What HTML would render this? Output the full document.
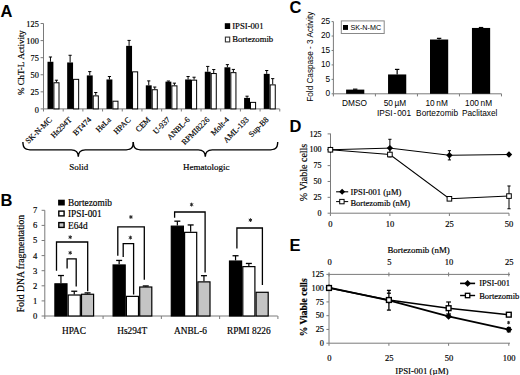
<!DOCTYPE html>
<html><head><meta charset="utf-8"><style>
html,body{margin:0;padding:0;background:#fff;}
body{width:520px;height:375px;overflow:hidden;}
svg{display:block;}
text[font-family*="Serif"]{stroke:#000;stroke-width:0.18px;}
</style></head><body>
<svg width="520" height="375" viewBox="0 0 520 375">
<rect width="520" height="375" fill="#fff"/>
<text x="0.5" y="16.8" font-family='"Liberation Sans", sans-serif' font-size="16.5" text-anchor="start" font-weight="bold" fill="#000" >A</text>
<text x="0.5" y="206.3" font-family='"Liberation Sans", sans-serif' font-size="16.5" text-anchor="start" font-weight="bold" fill="#000" >B</text>
<text x="289.5" y="12.6" font-family='"Liberation Sans", sans-serif' font-size="16.5" text-anchor="start" font-weight="bold" fill="#000" >C</text>
<text x="289.5" y="131.9" font-family='"Liberation Sans", sans-serif' font-size="16.5" text-anchor="start" font-weight="bold" fill="#000" >D</text>
<text x="289.5" y="251.4" font-family='"Liberation Sans", sans-serif' font-size="16.5" text-anchor="start" font-weight="bold" fill="#000" >E</text>
<line x1="43.5" y1="23.5" x2="43.5" y2="108.9" stroke="#7a7a7a" stroke-width="1"/>
<line x1="43.5" y1="108.9" x2="279.6" y2="108.9" stroke="#7a7a7a" stroke-width="1"/>
<line x1="40.6" y1="108.9" x2="43.5" y2="108.9" stroke="#7a7a7a" stroke-width="1"/>
<text x="38.8" y="112.5" font-family='"Liberation Serif", serif' font-size="8.3" text-anchor="end" font-weight="normal" fill="#000" >0</text>
<line x1="40.6" y1="91.83" x2="43.5" y2="91.83" stroke="#7a7a7a" stroke-width="1"/>
<text x="38.8" y="95.42" font-family='"Liberation Serif", serif' font-size="8.3" text-anchor="end" font-weight="normal" fill="#000" >25</text>
<line x1="40.6" y1="74.75" x2="43.5" y2="74.75" stroke="#7a7a7a" stroke-width="1"/>
<text x="38.8" y="78.35" font-family='"Liberation Serif", serif' font-size="8.3" text-anchor="end" font-weight="normal" fill="#000" >50</text>
<line x1="40.6" y1="57.68" x2="43.5" y2="57.68" stroke="#7a7a7a" stroke-width="1"/>
<text x="38.8" y="61.28" font-family='"Liberation Serif", serif' font-size="8.3" text-anchor="end" font-weight="normal" fill="#000" >75</text>
<line x1="40.6" y1="40.6" x2="43.5" y2="40.6" stroke="#7a7a7a" stroke-width="1"/>
<text x="38.8" y="44.2" font-family='"Liberation Serif", serif' font-size="8.3" text-anchor="end" font-weight="normal" fill="#000" >100</text>
<line x1="40.6" y1="23.53" x2="43.5" y2="23.53" stroke="#7a7a7a" stroke-width="1"/>
<text x="38.8" y="27.13" font-family='"Liberation Serif", serif' font-size="8.3" text-anchor="end" font-weight="normal" fill="#000" >125</text>
<line x1="43.5" y1="108.9" x2="43.5" y2="111.5" stroke="#7a7a7a" stroke-width="1"/>
<line x1="63.19" y1="108.9" x2="63.19" y2="111.5" stroke="#7a7a7a" stroke-width="1"/>
<line x1="82.88" y1="108.9" x2="82.88" y2="111.5" stroke="#7a7a7a" stroke-width="1"/>
<line x1="102.57" y1="108.9" x2="102.57" y2="111.5" stroke="#7a7a7a" stroke-width="1"/>
<line x1="122.26" y1="108.9" x2="122.26" y2="111.5" stroke="#7a7a7a" stroke-width="1"/>
<line x1="141.95" y1="108.9" x2="141.95" y2="111.5" stroke="#7a7a7a" stroke-width="1"/>
<line x1="161.64" y1="108.9" x2="161.64" y2="111.5" stroke="#7a7a7a" stroke-width="1"/>
<line x1="181.33" y1="108.9" x2="181.33" y2="111.5" stroke="#7a7a7a" stroke-width="1"/>
<line x1="201.02" y1="108.9" x2="201.02" y2="111.5" stroke="#7a7a7a" stroke-width="1"/>
<line x1="220.71" y1="108.9" x2="220.71" y2="111.5" stroke="#7a7a7a" stroke-width="1"/>
<line x1="240.4" y1="108.9" x2="240.4" y2="111.5" stroke="#7a7a7a" stroke-width="1"/>
<line x1="260.09" y1="108.9" x2="260.09" y2="111.5" stroke="#7a7a7a" stroke-width="1"/>
<line x1="279.78" y1="108.9" x2="279.78" y2="111.5" stroke="#7a7a7a" stroke-width="1"/>
<line x1="50.45" y1="56.99" x2="50.45" y2="61.77" stroke="#000" stroke-width="1"/>
<line x1="48.85" y1="56.99" x2="52.05" y2="56.99" stroke="#000" stroke-width="1"/>
<rect x="47.5" y="61.77" width="5.9" height="47.13" fill="#000"/>
<line x1="56.45" y1="80.21" x2="56.45" y2="82.26" stroke="#000" stroke-width="1"/>
<line x1="54.85" y1="80.21" x2="58.05" y2="80.21" stroke="#000" stroke-width="1"/>
<rect x="53.9" y="82.76" width="5.1" height="26.14" fill="#fff" stroke="#000" stroke-width="1"/>
<line x1="70.11" y1="55.28" x2="70.11" y2="62.46" stroke="#000" stroke-width="1"/>
<line x1="68.51" y1="55.28" x2="71.71" y2="55.28" stroke="#000" stroke-width="1"/>
<rect x="67.16" y="62.46" width="5.9" height="46.44" fill="#000"/>
<rect x="73.56" y="79.35" width="5.1" height="29.55" fill="#fff" stroke="#000" stroke-width="1"/>
<line x1="89.77" y1="71.61" x2="89.77" y2="75.43" stroke="#000" stroke-width="1"/>
<line x1="88.17" y1="71.61" x2="91.37" y2="71.61" stroke="#000" stroke-width="1"/>
<rect x="86.82" y="75.43" width="5.9" height="33.47" fill="#000"/>
<line x1="95.77" y1="92.51" x2="95.77" y2="95.38" stroke="#000" stroke-width="1"/>
<line x1="94.17" y1="92.51" x2="97.37" y2="92.51" stroke="#000" stroke-width="1"/>
<rect x="93.22" y="95.88" width="5.1" height="13.02" fill="#fff" stroke="#000" stroke-width="1"/>
<line x1="109.43" y1="76.53" x2="109.43" y2="79.46" stroke="#000" stroke-width="1"/>
<line x1="107.83" y1="76.53" x2="111.03" y2="76.53" stroke="#000" stroke-width="1"/>
<rect x="106.48" y="79.46" width="5.9" height="29.44" fill="#000"/>
<rect x="112.88" y="101.2" width="5.1" height="7.7" fill="#fff" stroke="#000" stroke-width="1"/>
<line x1="129.09" y1="40.4" x2="129.09" y2="45.86" stroke="#000" stroke-width="1"/>
<line x1="127.49" y1="40.4" x2="130.69" y2="40.4" stroke="#000" stroke-width="1"/>
<rect x="126.14" y="45.86" width="5.9" height="63.04" fill="#000"/>
<rect x="132.54" y="71.84" width="5.1" height="37.06" fill="#fff" stroke="#000" stroke-width="1"/>
<line x1="148.75" y1="80.9" x2="148.75" y2="85.34" stroke="#000" stroke-width="1"/>
<line x1="147.15" y1="80.9" x2="150.35" y2="80.9" stroke="#000" stroke-width="1"/>
<rect x="145.8" y="85.34" width="5.9" height="23.56" fill="#000"/>
<line x1="154.75" y1="87.04" x2="154.75" y2="89.23" stroke="#000" stroke-width="1"/>
<line x1="153.15" y1="87.04" x2="156.35" y2="87.04" stroke="#000" stroke-width="1"/>
<rect x="152.2" y="89.73" width="5.1" height="19.17" fill="#fff" stroke="#000" stroke-width="1"/>
<line x1="168.41" y1="81.03" x2="168.41" y2="81.65" stroke="#000" stroke-width="1"/>
<line x1="166.81" y1="81.03" x2="170.01" y2="81.03" stroke="#000" stroke-width="1"/>
<rect x="165.46" y="81.65" width="5.9" height="27.25" fill="#000"/>
<line x1="174.41" y1="83.15" x2="174.41" y2="85.34" stroke="#000" stroke-width="1"/>
<line x1="172.81" y1="83.15" x2="176.01" y2="83.15" stroke="#000" stroke-width="1"/>
<rect x="171.86" y="85.84" width="5.1" height="23.06" fill="#fff" stroke="#000" stroke-width="1"/>
<line x1="188.07" y1="76.53" x2="188.07" y2="79.46" stroke="#000" stroke-width="1"/>
<line x1="186.47" y1="76.53" x2="189.67" y2="76.53" stroke="#000" stroke-width="1"/>
<rect x="185.12" y="79.46" width="5.9" height="29.44" fill="#000"/>
<line x1="194.07" y1="77.21" x2="194.07" y2="79.67" stroke="#000" stroke-width="1"/>
<line x1="192.47" y1="77.21" x2="195.67" y2="77.21" stroke="#000" stroke-width="1"/>
<rect x="191.52" y="80.17" width="5.1" height="28.73" fill="#fff" stroke="#000" stroke-width="1"/>
<line x1="207.73" y1="66.42" x2="207.73" y2="71.74" stroke="#000" stroke-width="1"/>
<line x1="206.13" y1="66.42" x2="209.33" y2="66.42" stroke="#000" stroke-width="1"/>
<rect x="204.78" y="71.74" width="5.9" height="37.16" fill="#000"/>
<line x1="213.73" y1="69.56" x2="213.73" y2="73.04" stroke="#000" stroke-width="1"/>
<line x1="212.13" y1="69.56" x2="215.33" y2="69.56" stroke="#000" stroke-width="1"/>
<rect x="211.18" y="73.54" width="5.1" height="35.36" fill="#fff" stroke="#000" stroke-width="1"/>
<line x1="227.39" y1="64.64" x2="227.39" y2="67.31" stroke="#000" stroke-width="1"/>
<line x1="225.79" y1="64.64" x2="228.99" y2="64.64" stroke="#000" stroke-width="1"/>
<rect x="224.44" y="67.31" width="5.9" height="41.59" fill="#000"/>
<line x1="233.39" y1="69.42" x2="233.39" y2="72.15" stroke="#000" stroke-width="1"/>
<line x1="231.79" y1="69.42" x2="234.99" y2="69.42" stroke="#000" stroke-width="1"/>
<rect x="230.84" y="72.65" width="5.1" height="36.25" fill="#fff" stroke="#000" stroke-width="1"/>
<line x1="247.05" y1="96.2" x2="247.05" y2="97.9" stroke="#000" stroke-width="1"/>
<line x1="245.45" y1="96.2" x2="248.65" y2="96.2" stroke="#000" stroke-width="1"/>
<rect x="244.1" y="97.9" width="5.9" height="11" fill="#000"/>
<rect x="250.5" y="102.37" width="5.1" height="6.53" fill="#fff" stroke="#000" stroke-width="1"/>
<line x1="266.71" y1="70.52" x2="266.71" y2="73.86" stroke="#000" stroke-width="1"/>
<line x1="265.11" y1="70.52" x2="268.31" y2="70.52" stroke="#000" stroke-width="1"/>
<rect x="263.76" y="73.86" width="5.9" height="35.04" fill="#000"/>
<line x1="272.71" y1="78.64" x2="272.71" y2="84.38" stroke="#000" stroke-width="1"/>
<line x1="271.11" y1="78.64" x2="274.31" y2="78.64" stroke="#000" stroke-width="1"/>
<rect x="270.16" y="84.88" width="5.1" height="24.02" fill="#fff" stroke="#000" stroke-width="1"/>
<rect x="224.8" y="23.2" width="5.4" height="5.8" fill="#000"/>
<text x="232.2" y="29.4" font-family='"Liberation Serif", serif' font-size="8.7" text-anchor="start" font-weight="normal" fill="#000" >IPSI-001</text>
<rect x="225.4" y="37.1" width="4.3" height="4.8" fill="#fff" stroke="#333" stroke-width="1.1"/>
<text x="232.2" y="42.3" font-family='"Liberation Serif", serif' font-size="8.7" text-anchor="start" font-weight="normal" fill="#000" >Bortezomib</text>
<text transform="translate(52.45,120.2) rotate(-45)" font-family='"Liberation Serif", serif' font-size="8.0" text-anchor="end">SK-N-MC</text>
<text transform="translate(72.14,120.2) rotate(-45)" font-family='"Liberation Serif", serif' font-size="8.0" text-anchor="end">Hs294T</text>
<text transform="translate(91.83,120.2) rotate(-45)" font-family='"Liberation Serif", serif' font-size="8.0" text-anchor="end">BT474</text>
<text transform="translate(111.52,120.2) rotate(-45)" font-family='"Liberation Serif", serif' font-size="8.0" text-anchor="end">HeLa</text>
<text transform="translate(131.21,120.2) rotate(-45)" font-family='"Liberation Serif", serif' font-size="8.0" text-anchor="end">HPAC</text>
<text transform="translate(150.9,120.2) rotate(-45)" font-family='"Liberation Serif", serif' font-size="8.0" text-anchor="end">CEM</text>
<text transform="translate(170.59,120.2) rotate(-45)" font-family='"Liberation Serif", serif' font-size="8.0" text-anchor="end">U-937</text>
<text transform="translate(190.28,120.2) rotate(-45)" font-family='"Liberation Serif", serif' font-size="8.0" text-anchor="end">ANBL-6</text>
<text transform="translate(209.97,120.2) rotate(-45)" font-family='"Liberation Serif", serif' font-size="8.0" text-anchor="end">RPMI8226</text>
<text transform="translate(229.66,120.2) rotate(-45)" font-family='"Liberation Serif", serif' font-size="8.0" text-anchor="end">Molt-4</text>
<text transform="translate(249.35,120.2) rotate(-45)" font-family='"Liberation Serif", serif' font-size="8.0" text-anchor="end">AML-193</text>
<text transform="translate(269.04,120.2) rotate(-45)" font-family='"Liberation Serif", serif' font-size="8.0" text-anchor="end">Sup-B8</text>
<text transform="translate(24,62.6) rotate(-90)" font-family='"Liberation Serif", serif' font-size="8.95" font-weight="normal" text-anchor="middle">% ChT-L<tspan dx="2.4">Activity</tspan></text>
<path d="M22.9,142 C22.9,148.9 25.9,149.9 32.4,149.9 L71.3,149.9 C75.3,149.9 78.3,151.9 78.3,156.8 C78.3,151.9 81.3,149.9 85.3,149.9 L123.8,149.9 C130.3,149.9 133.3,148.9 133.3,142" stroke="#000" stroke-width="1.4" fill="none"/>
<path d="M133.3,142 C133.3,148.9 136.3,149.9 142.8,149.9 L198.3,149.9 C202.3,149.9 205.3,151.9 205.3,156.8 C205.3,151.9 208.3,149.9 212.3,149.9 L268.2,149.9 C274.7,149.9 277.7,148.9 277.7,142" stroke="#000" stroke-width="1.4" fill="none"/>
<text x="78.8" y="169.6" font-family='"Liberation Serif", serif' font-size="9" text-anchor="middle" font-weight="normal" fill="#000" >Solid</text>
<text x="206.2" y="169.8" font-family='"Liberation Serif", serif' font-size="9" text-anchor="middle" font-weight="normal" fill="#000" >Hematologic</text>
<line x1="44.8" y1="210.3" x2="44.8" y2="316" stroke="#7a7a7a" stroke-width="1"/>
<line x1="44.8" y1="316" x2="277.7" y2="316" stroke="#7a7a7a" stroke-width="1"/>
<line x1="41.6" y1="316" x2="44.8" y2="316" stroke="#7a7a7a" stroke-width="1"/>
<text x="37.4" y="318.9" font-family='"Liberation Serif", serif' font-size="8.6" text-anchor="end" font-weight="normal" fill="#000" >0</text>
<line x1="41.6" y1="300.9" x2="44.8" y2="300.9" stroke="#7a7a7a" stroke-width="1"/>
<text x="37.4" y="303.8" font-family='"Liberation Serif", serif' font-size="8.6" text-anchor="end" font-weight="normal" fill="#000" >1</text>
<line x1="41.6" y1="285.8" x2="44.8" y2="285.8" stroke="#7a7a7a" stroke-width="1"/>
<text x="37.4" y="288.7" font-family='"Liberation Serif", serif' font-size="8.6" text-anchor="end" font-weight="normal" fill="#000" >2</text>
<line x1="41.6" y1="270.7" x2="44.8" y2="270.7" stroke="#7a7a7a" stroke-width="1"/>
<text x="37.4" y="273.6" font-family='"Liberation Serif", serif' font-size="8.6" text-anchor="end" font-weight="normal" fill="#000" >3</text>
<line x1="41.6" y1="255.6" x2="44.8" y2="255.6" stroke="#7a7a7a" stroke-width="1"/>
<text x="37.4" y="258.5" font-family='"Liberation Serif", serif' font-size="8.6" text-anchor="end" font-weight="normal" fill="#000" >4</text>
<line x1="41.6" y1="240.5" x2="44.8" y2="240.5" stroke="#7a7a7a" stroke-width="1"/>
<text x="37.4" y="243.4" font-family='"Liberation Serif", serif' font-size="8.6" text-anchor="end" font-weight="normal" fill="#000" >5</text>
<line x1="41.6" y1="225.4" x2="44.8" y2="225.4" stroke="#7a7a7a" stroke-width="1"/>
<text x="37.4" y="228.3" font-family='"Liberation Serif", serif' font-size="8.6" text-anchor="end" font-weight="normal" fill="#000" >6</text>
<line x1="41.6" y1="210.3" x2="44.8" y2="210.3" stroke="#7a7a7a" stroke-width="1"/>
<text x="37.4" y="213.2" font-family='"Liberation Serif", serif' font-size="8.6" text-anchor="end" font-weight="normal" fill="#000" >7</text>
<line x1="44.8" y1="316" x2="44.8" y2="319" stroke="#7a7a7a" stroke-width="1"/>
<line x1="103.08" y1="316" x2="103.08" y2="319" stroke="#7a7a7a" stroke-width="1"/>
<line x1="161.36" y1="316" x2="161.36" y2="319" stroke="#7a7a7a" stroke-width="1"/>
<line x1="219.64" y1="316" x2="219.64" y2="319" stroke="#7a7a7a" stroke-width="1"/>
<line x1="277.92" y1="316" x2="277.92" y2="319" stroke="#7a7a7a" stroke-width="1"/>
<line x1="60.95" y1="275.53" x2="60.95" y2="283.23" stroke="#000" stroke-width="1.2"/>
<line x1="57.95" y1="275.53" x2="63.95" y2="275.53" stroke="#000" stroke-width="1.3"/>
<rect x="54.9" y="283.83" width="12.1" height="32.17" fill="#000" stroke="#000" stroke-width="1.2"/>
<line x1="74.25" y1="291.24" x2="74.25" y2="294.41" stroke="#000" stroke-width="1.2"/>
<line x1="71.25" y1="291.24" x2="77.25" y2="291.24" stroke="#000" stroke-width="1.3"/>
<rect x="68.2" y="295.01" width="12.1" height="20.99" fill="#fff" stroke="#000" stroke-width="1.2"/>
<line x1="87.55" y1="292.9" x2="87.55" y2="293.65" stroke="#000" stroke-width="1.2"/>
<line x1="84.55" y1="292.9" x2="90.55" y2="292.9" stroke="#000" stroke-width="1.3"/>
<rect x="81.5" y="294.25" width="12.1" height="21.75" fill="#c4c4c4" stroke="#000" stroke-width="1.2"/>
<line x1="119.15" y1="260.43" x2="119.15" y2="264.36" stroke="#000" stroke-width="1.2"/>
<line x1="116.15" y1="260.43" x2="122.15" y2="260.43" stroke="#000" stroke-width="1.3"/>
<rect x="113.1" y="264.96" width="12.1" height="51.04" fill="#000" stroke="#000" stroke-width="1.2"/>
<rect x="126.4" y="296.37" width="12.1" height="19.63" fill="#fff" stroke="#000" stroke-width="1.2"/>
<line x1="145.75" y1="285.95" x2="145.75" y2="286.4" stroke="#000" stroke-width="1.2"/>
<line x1="142.75" y1="285.95" x2="148.75" y2="285.95" stroke="#000" stroke-width="1.3"/>
<rect x="139.7" y="287" width="12.1" height="29" fill="#c4c4c4" stroke="#000" stroke-width="1.2"/>
<line x1="177.35" y1="221.17" x2="177.35" y2="225.55" stroke="#000" stroke-width="1.2"/>
<line x1="174.35" y1="221.17" x2="180.35" y2="221.17" stroke="#000" stroke-width="1.3"/>
<rect x="171.3" y="226.15" width="12.1" height="89.85" fill="#000" stroke="#000" stroke-width="1.2"/>
<line x1="190.65" y1="224.95" x2="190.65" y2="231.74" stroke="#000" stroke-width="1.2"/>
<line x1="187.65" y1="224.95" x2="193.65" y2="224.95" stroke="#000" stroke-width="1.3"/>
<rect x="184.6" y="232.34" width="12.1" height="83.66" fill="#fff" stroke="#000" stroke-width="1.2"/>
<line x1="203.95" y1="275.68" x2="203.95" y2="281.27" stroke="#000" stroke-width="1.2"/>
<line x1="200.95" y1="275.68" x2="206.95" y2="275.68" stroke="#000" stroke-width="1.3"/>
<rect x="197.9" y="281.87" width="12.1" height="34.13" fill="#c4c4c4" stroke="#000" stroke-width="1.2"/>
<line x1="235.55" y1="255.75" x2="235.55" y2="260.43" stroke="#000" stroke-width="1.2"/>
<line x1="232.55" y1="255.75" x2="238.55" y2="255.75" stroke="#000" stroke-width="1.3"/>
<rect x="229.5" y="261.03" width="12.1" height="54.97" fill="#000" stroke="#000" stroke-width="1.2"/>
<line x1="248.85" y1="263.45" x2="248.85" y2="266.02" stroke="#000" stroke-width="1.2"/>
<line x1="245.85" y1="263.45" x2="251.85" y2="263.45" stroke="#000" stroke-width="1.3"/>
<rect x="242.8" y="266.62" width="12.1" height="49.38" fill="#fff" stroke="#000" stroke-width="1.2"/>
<rect x="256.1" y="292.29" width="12.1" height="23.71" fill="#c4c4c4" stroke="#000" stroke-width="1.2"/>
<path d="M56.5,270.8 L56.5,242 L87.7,242 L87.7,291.2" stroke="#000" stroke-width="1.3" fill="none"/>
<path d="M70.2,235.3 L70.2,239.1 M68.55,236.25 L71.85,238.15 M71.85,236.25 L68.55,238.15 " stroke="#222" stroke-width="1.0" fill="none"/>
<path d="M67.1,268.4 L67.1,258.8 L76.2,258.8 L76.2,286.4" stroke="#000" stroke-width="1.3" fill="none"/>
<path d="M70.2,250.9 L70.2,254.7 M68.55,251.85 L71.85,253.75 M71.85,251.85 L68.55,253.75 " stroke="#222" stroke-width="1.0" fill="none"/>
<path d="M117.8,255.7 L117.8,226.9 L144.3,226.9 L144.3,279.8" stroke="#000" stroke-width="1.3" fill="none"/>
<path d="M130.9,215.1 L130.9,218.9 M129.25,216.05 L132.55,217.95 M132.55,216.05 L129.25,217.95 " stroke="#222" stroke-width="1.0" fill="none"/>
<path d="M123.2,257 L123.2,243.7 L133.6,243.7 L133.6,294.5" stroke="#000" stroke-width="1.3" fill="none"/>
<path d="M130.4,235.7 L130.4,239.5 M128.75,236.65 L132.05,238.55 M132.05,236.65 L128.75,238.55 " stroke="#222" stroke-width="1.0" fill="none"/>
<path d="M174.6,217.8 L174.6,212 L205.1,212 L205.1,272.4" stroke="#000" stroke-width="1.3" fill="none"/>
<path d="M191.6,202.7 L191.6,206.5 M189.95,203.65 L193.25,205.55 M193.25,203.65 L189.95,205.55 " stroke="#222" stroke-width="1.0" fill="none"/>
<path d="M236.9,248.5 L236.9,228 L262.4,228 L262.4,285" stroke="#000" stroke-width="1.3" fill="none"/>
<path d="M250.4,218.2 L250.4,222 M248.75,219.15 L252.05,221.05 M252.05,219.15 L248.75,221.05 " stroke="#222" stroke-width="1.0" fill="none"/>
<rect x="58.1" y="199.7" width="6.7" height="5.8" fill="#000"/>
<text x="68" y="205.5" font-family='"Liberation Serif", serif' font-size="9.3" text-anchor="start" font-weight="normal" fill="#000" >Bortezomib</text>
<rect x="58.8" y="211.1" width="5.3" height="4.8" fill="#fff" stroke="#000" stroke-width="1.4"/>
<text x="68" y="217.2" font-family='"Liberation Serif", serif' font-size="9.3" text-anchor="start" font-weight="normal" fill="#000" >IPSI-001</text>
<rect x="58.8" y="222.6" width="5.3" height="4.8" fill="#c4c4c4" stroke="#000" stroke-width="1.4"/>
<text x="68" y="228.6" font-family='"Liberation Serif", serif' font-size="9.3" text-anchor="start" font-weight="normal" fill="#000" >E64d</text>
<text x="73.94" y="333.8" font-family='"Liberation Serif", serif' font-size="9.3" text-anchor="middle" font-weight="normal" fill="#000" >HPAC</text>
<text x="132.22" y="333.8" font-family='"Liberation Serif", serif' font-size="9.3" text-anchor="middle" font-weight="normal" fill="#000" >Hs294T</text>
<text x="190.5" y="333.8" font-family='"Liberation Serif", serif' font-size="9.3" text-anchor="middle" font-weight="normal" fill="#000" >ANBL-6</text>
<text x="248.78" y="333.8" font-family='"Liberation Serif", serif' font-size="9.3" text-anchor="middle" font-weight="normal" fill="#000" >RPMI 8226</text>
<text transform="translate(23.6,263.5) rotate(-90)" font-family='"Liberation Serif", serif' font-size="9.7" font-weight="normal" text-anchor="middle">Fold DNA fragmentation</text>
<line x1="333.4" y1="21.6" x2="333.4" y2="93.8" stroke="#7a7a7a" stroke-width="1"/>
<line x1="333.4" y1="93.8" x2="501.5" y2="93.8" stroke="#7a7a7a" stroke-width="1"/>
<line x1="331.6" y1="93.8" x2="333.4" y2="93.8" stroke="#7a7a7a" stroke-width="1"/>
<text x="330.2" y="96.1" font-family='"Liberation Sans", sans-serif' font-size="8.3" text-anchor="end" font-weight="normal" fill="#000" >0</text>
<line x1="331.6" y1="79.36" x2="333.4" y2="79.36" stroke="#7a7a7a" stroke-width="1"/>
<text x="330.2" y="81.66" font-family='"Liberation Sans", sans-serif' font-size="8.3" text-anchor="end" font-weight="normal" fill="#000" >5</text>
<line x1="331.6" y1="64.92" x2="333.4" y2="64.92" stroke="#7a7a7a" stroke-width="1"/>
<text x="330.2" y="67.22" font-family='"Liberation Sans", sans-serif' font-size="8.3" text-anchor="end" font-weight="normal" fill="#000" >10</text>
<line x1="331.6" y1="50.48" x2="333.4" y2="50.48" stroke="#7a7a7a" stroke-width="1"/>
<text x="330.2" y="52.78" font-family='"Liberation Sans", sans-serif' font-size="8.3" text-anchor="end" font-weight="normal" fill="#000" >15</text>
<line x1="331.6" y1="36.04" x2="333.4" y2="36.04" stroke="#7a7a7a" stroke-width="1"/>
<text x="330.2" y="38.34" font-family='"Liberation Sans", sans-serif' font-size="8.3" text-anchor="end" font-weight="normal" fill="#000" >20</text>
<line x1="331.6" y1="21.6" x2="333.4" y2="21.6" stroke="#7a7a7a" stroke-width="1"/>
<text x="330.2" y="23.9" font-family='"Liberation Sans", sans-serif' font-size="8.3" text-anchor="end" font-weight="normal" fill="#000" >25</text>
<line x1="333.4" y1="93.8" x2="333.4" y2="96.4" stroke="#7a7a7a" stroke-width="1"/>
<line x1="375.42" y1="93.8" x2="375.42" y2="96.4" stroke="#7a7a7a" stroke-width="1"/>
<line x1="417.44" y1="93.8" x2="417.44" y2="96.4" stroke="#7a7a7a" stroke-width="1"/>
<line x1="459.46" y1="93.8" x2="459.46" y2="96.4" stroke="#7a7a7a" stroke-width="1"/>
<line x1="501.48" y1="93.8" x2="501.48" y2="96.4" stroke="#7a7a7a" stroke-width="1"/>
<line x1="355.2" y1="89.18" x2="355.2" y2="89.61" stroke="#000" stroke-width="1.2"/>
<line x1="353" y1="89.18" x2="357.4" y2="89.18" stroke="#000" stroke-width="1.2"/>
<rect x="346.1" y="89.61" width="18.2" height="4.19" fill="#000"/>
<line x1="397.15" y1="69.4" x2="397.15" y2="74.45" stroke="#000" stroke-width="1.2"/>
<line x1="394.95" y1="69.4" x2="399.35" y2="69.4" stroke="#000" stroke-width="1.2"/>
<rect x="388.05" y="74.45" width="18.2" height="19.35" fill="#000"/>
<line x1="439.1" y1="38.35" x2="439.1" y2="39.51" stroke="#000" stroke-width="1.2"/>
<line x1="436.9" y1="38.35" x2="441.3" y2="38.35" stroke="#000" stroke-width="1.2"/>
<rect x="430" y="39.51" width="18.2" height="54.29" fill="#000"/>
<line x1="481.05" y1="27.52" x2="481.05" y2="27.95" stroke="#000" stroke-width="1.2"/>
<line x1="478.85" y1="27.52" x2="483.25" y2="27.52" stroke="#000" stroke-width="1.2"/>
<rect x="471.95" y="27.95" width="18.2" height="65.85" fill="#000"/>
<rect x="341.3" y="20.9" width="42.9" height="12.6" fill="#fff" stroke="#888" stroke-width="1"/>
<rect x="343" y="25" width="5" height="4.9" fill="#000"/>
<text x="350.4" y="30" font-family='"Liberation Sans", sans-serif' font-size="7.2" text-anchor="start" font-weight="normal" fill="#000" style="stroke:none">SK-N-MC</text>
<text x="354.5" y="106" font-family='"Liberation Sans", sans-serif' font-size="8.3" text-anchor="middle" font-weight="normal" fill="#000" >DMSO</text>
<text x="395" y="106" font-family='"Liberation Sans", sans-serif' font-size="8.3" text-anchor="middle" font-weight="normal" fill="#000" >50&#8201;µM</text>
<text x="394" y="115.6" font-family='"Liberation Sans", sans-serif' font-size="8.3" text-anchor="middle" font-weight="normal" fill="#000" >IPSI<tspan dx="0.9">-</tspan><tspan dx="0.9">001</tspan></text>
<text x="436.6" y="106" font-family='"Liberation Sans", sans-serif' font-size="8.3" text-anchor="middle" font-weight="normal" fill="#000" >10&#8201;nM</text>
<text x="437.1" y="115.6" font-family='"Liberation Sans", sans-serif' font-size="8.3" text-anchor="middle" font-weight="normal" fill="#000" >Bortezomib</text>
<text x="478.6" y="106" font-family='"Liberation Sans", sans-serif' font-size="8.3" text-anchor="middle" font-weight="normal" fill="#000" >100&#8201;nM</text>
<text x="479.7" y="115.6" font-family='"Liberation Sans", sans-serif' font-size="8.3" text-anchor="middle" font-weight="normal" fill="#000" >Paclitaxel</text>
<text transform="translate(313.2,56.7) rotate(-90)" font-family='"Liberation Sans", sans-serif' font-size="8.2" font-weight="normal" text-anchor="middle">Fold Caspase - 3 Activity</text>
<line x1="330.5" y1="133.6" x2="330.5" y2="213.2" stroke="#7a7a7a" stroke-width="1"/>
<line x1="330.5" y1="213.2" x2="509" y2="213.2" stroke="#7a7a7a" stroke-width="1"/>
<line x1="327.6" y1="213.2" x2="330.5" y2="213.2" stroke="#7a7a7a" stroke-width="1"/>
<text x="321.4" y="215.9" font-family='"Liberation Serif", serif' font-size="8" text-anchor="end" font-weight="normal" fill="#000" >0</text>
<line x1="327.6" y1="197.34" x2="330.5" y2="197.34" stroke="#7a7a7a" stroke-width="1"/>
<text x="321.4" y="200.04" font-family='"Liberation Serif", serif' font-size="8" text-anchor="end" font-weight="normal" fill="#000" >25</text>
<line x1="327.6" y1="181.48" x2="330.5" y2="181.48" stroke="#7a7a7a" stroke-width="1"/>
<text x="321.4" y="184.18" font-family='"Liberation Serif", serif' font-size="8" text-anchor="end" font-weight="normal" fill="#000" >50</text>
<line x1="327.6" y1="165.62" x2="330.5" y2="165.62" stroke="#7a7a7a" stroke-width="1"/>
<text x="321.4" y="168.32" font-family='"Liberation Serif", serif' font-size="8" text-anchor="end" font-weight="normal" fill="#000" >75</text>
<line x1="327.6" y1="149.76" x2="330.5" y2="149.76" stroke="#7a7a7a" stroke-width="1"/>
<text x="321.4" y="152.46" font-family='"Liberation Serif", serif' font-size="8" text-anchor="end" font-weight="normal" fill="#000" >100</text>
<line x1="327.6" y1="133.9" x2="330.5" y2="133.9" stroke="#7a7a7a" stroke-width="1"/>
<text x="321.4" y="136.6" font-family='"Liberation Serif", serif' font-size="8" text-anchor="end" font-weight="normal" fill="#000" >125</text>
<line x1="330.4" y1="213.2" x2="330.4" y2="216" stroke="#7a7a7a" stroke-width="1"/>
<text x="330.4" y="227.2" font-family='"Liberation Serif", serif' font-size="8.5" text-anchor="middle" font-weight="normal" fill="#000" >0</text>
<line x1="389.9" y1="213.2" x2="389.9" y2="216" stroke="#7a7a7a" stroke-width="1"/>
<text x="389.9" y="227.2" font-family='"Liberation Serif", serif' font-size="8.5" text-anchor="middle" font-weight="normal" fill="#000" >10</text>
<line x1="449.4" y1="213.2" x2="449.4" y2="216" stroke="#7a7a7a" stroke-width="1"/>
<text x="449.4" y="227.2" font-family='"Liberation Serif", serif' font-size="8.5" text-anchor="middle" font-weight="normal" fill="#000" >25</text>
<line x1="509" y1="213.2" x2="509" y2="216" stroke="#7a7a7a" stroke-width="1"/>
<text x="509" y="227.2" font-family='"Liberation Serif", serif' font-size="8.5" text-anchor="middle" font-weight="normal" fill="#000" >50</text>
<line x1="389.9" y1="139.29" x2="389.9" y2="156.93" stroke="#000" stroke-width="1"/>
<line x1="388.3" y1="139.29" x2="391.5" y2="139.29" stroke="#000" stroke-width="1"/>
<line x1="388.3" y1="156.93" x2="391.5" y2="156.93" stroke="#000" stroke-width="1"/>
<line x1="449.4" y1="150.65" x2="449.4" y2="159.91" stroke="#000" stroke-width="1"/>
<line x1="447.8" y1="150.65" x2="451" y2="150.65" stroke="#000" stroke-width="1"/>
<line x1="447.8" y1="159.91" x2="451" y2="159.91" stroke="#000" stroke-width="1"/>
<line x1="509" y1="185.98" x2="509" y2="208.76" stroke="#000" stroke-width="1"/>
<line x1="507.4" y1="185.98" x2="510.6" y2="185.98" stroke="#000" stroke-width="1"/>
<line x1="507.4" y1="208.76" x2="510.6" y2="208.76" stroke="#000" stroke-width="1"/>
<path d="M330.4,149.76 L389.9,148.11 L449.4,155.28 L509,154.52" stroke="#000" stroke-width="1" fill="none"/>
<path d="M330.4,149.76 L389.9,154.52 L449.4,198.8 L509,196.07" stroke="#000" stroke-width="1.1" fill="none"/>
<path d="M330.4,146.56 L333.6,149.76 L330.4,152.96 L327.2,149.76 Z" fill="#000"/>
<path d="M389.9,144.91 L393.1,148.11 L389.9,151.31 L386.7,148.11 Z" fill="#000"/>
<path d="M449.4,152.08 L452.6,155.28 L449.4,158.48 L446.2,155.28 Z" fill="#000"/>
<path d="M509,151.32 L512.2,154.52 L509,157.72 L505.8,154.52 Z" fill="#000"/>
<rect x="328.1" y="147.46" width="4.6" height="4.6" fill="#fff" stroke="#000" stroke-width="1.0"/>
<rect x="387.6" y="152.22" width="4.6" height="4.6" fill="#fff" stroke="#000" stroke-width="1.0"/>
<rect x="447.1" y="196.5" width="4.6" height="4.6" fill="#fff" stroke="#000" stroke-width="1.0"/>
<rect x="506.7" y="193.77" width="4.6" height="4.6" fill="#fff" stroke="#000" stroke-width="1.0"/>
<line x1="336.1" y1="191.8" x2="348.2" y2="191.8" stroke="#000" stroke-width="1.1"/>
<path d="M342.1,188.8 L345.1,191.8 L342.1,194.8 L339.1,191.8 Z" fill="#000"/>
<text x="350.4" y="195.2" font-family='"Liberation Serif", serif' font-size="8.5" text-anchor="start" font-weight="normal" fill="#000" >IPSI-001 (µM)</text>
<line x1="336.1" y1="201.6" x2="348.2" y2="201.6" stroke="#000" stroke-width="1.0"/>
<rect x="339.7" y="199.4" width="4.4" height="4.4" fill="#fff" stroke="#000" stroke-width="1.0"/>
<text x="350.4" y="205.6" font-family='"Liberation Serif", serif' font-size="8.5" text-anchor="start" font-weight="normal" fill="#000" >Bortezomib (nM)</text>
<text transform="translate(307.4,172.5) rotate(-90)" font-family='"Liberation Serif", serif' font-size="10" font-weight="normal" text-anchor="middle">% Viable cells</text>
<line x1="329" y1="273.8" x2="329" y2="343.2" stroke="#7a7a7a" stroke-width="1"/>
<line x1="329" y1="343.2" x2="510" y2="343.2" stroke="#7a7a7a" stroke-width="1"/>
<line x1="329" y1="274.4" x2="510" y2="274.4" stroke="#7a7a7a" stroke-width="1"/>
<line x1="326.4" y1="343.2" x2="329" y2="343.2" stroke="#7a7a7a" stroke-width="1"/>
<text x="324" y="346" font-family='"Liberation Serif", serif' font-size="8.3" text-anchor="end" font-weight="normal" fill="#000" >0</text>
<line x1="326.4" y1="329.44" x2="329" y2="329.44" stroke="#7a7a7a" stroke-width="1"/>
<text x="324" y="332.24" font-family='"Liberation Serif", serif' font-size="8.3" text-anchor="end" font-weight="normal" fill="#000" >25</text>
<line x1="326.4" y1="315.68" x2="329" y2="315.68" stroke="#7a7a7a" stroke-width="1"/>
<text x="324" y="318.48" font-family='"Liberation Serif", serif' font-size="8.3" text-anchor="end" font-weight="normal" fill="#000" >50</text>
<line x1="326.4" y1="301.92" x2="329" y2="301.92" stroke="#7a7a7a" stroke-width="1"/>
<text x="324" y="304.72" font-family='"Liberation Serif", serif' font-size="8.3" text-anchor="end" font-weight="normal" fill="#000" >75</text>
<line x1="326.4" y1="288.16" x2="329" y2="288.16" stroke="#7a7a7a" stroke-width="1"/>
<text x="324" y="290.96" font-family='"Liberation Serif", serif' font-size="8.3" text-anchor="end" font-weight="normal" fill="#000" >100</text>
<line x1="326.4" y1="274.4" x2="329" y2="274.4" stroke="#7a7a7a" stroke-width="1"/>
<text x="324" y="277.2" font-family='"Liberation Serif", serif' font-size="8.3" text-anchor="end" font-weight="normal" fill="#000" >125</text>
<line x1="329" y1="343.2" x2="329" y2="345.8" stroke="#7a7a7a" stroke-width="1"/>
<line x1="329" y1="272.4" x2="329" y2="276.4" stroke="#7a7a7a" stroke-width="1"/>
<text x="329.3" y="360.6" font-family='"Liberation Serif", serif' font-size="8.5" text-anchor="middle" font-weight="normal" fill="#000" >0</text>
<text x="329.5" y="265" font-family='"Liberation Serif", serif' font-size="8.5" text-anchor="middle" font-weight="normal" fill="#000" >0</text>
<line x1="388.9" y1="343.2" x2="388.9" y2="345.8" stroke="#7a7a7a" stroke-width="1"/>
<line x1="388.9" y1="272.4" x2="388.9" y2="276.4" stroke="#7a7a7a" stroke-width="1"/>
<text x="389.2" y="360.6" font-family='"Liberation Serif", serif' font-size="8.5" text-anchor="middle" font-weight="normal" fill="#000" >25</text>
<text x="389.4" y="265" font-family='"Liberation Serif", serif' font-size="8.5" text-anchor="middle" font-weight="normal" fill="#000" >5</text>
<line x1="448.6" y1="343.2" x2="448.6" y2="345.8" stroke="#7a7a7a" stroke-width="1"/>
<line x1="448.6" y1="272.4" x2="448.6" y2="276.4" stroke="#7a7a7a" stroke-width="1"/>
<text x="448.9" y="360.6" font-family='"Liberation Serif", serif' font-size="8.5" text-anchor="middle" font-weight="normal" fill="#000" >50</text>
<text x="449.1" y="265" font-family='"Liberation Serif", serif' font-size="8.5" text-anchor="middle" font-weight="normal" fill="#000" >10</text>
<line x1="508.8" y1="343.2" x2="508.8" y2="345.8" stroke="#7a7a7a" stroke-width="1"/>
<line x1="508.8" y1="272.4" x2="508.8" y2="276.4" stroke="#7a7a7a" stroke-width="1"/>
<text x="509.1" y="360.6" font-family='"Liberation Serif", serif' font-size="8.5" text-anchor="middle" font-weight="normal" fill="#000" >100</text>
<text x="509.3" y="265" font-family='"Liberation Serif", serif' font-size="8.5" text-anchor="middle" font-weight="normal" fill="#000" >25</text>
<text x="418.6" y="252.7" font-family='"Liberation Serif", serif' font-size="8.9" text-anchor="middle" font-weight="normal" fill="#000" >Bortezomib (nM)</text>
<text x="421.9" y="373.5" font-family='"Liberation Serif", serif' font-size="8.9" text-anchor="middle" font-weight="normal" fill="#000" >IPSI-001 (µM)</text>
<line x1="388.9" y1="290.4" x2="388.9" y2="310.1" stroke="#000" stroke-width="1.3"/>
<line x1="386.9" y1="290.4" x2="390.9" y2="290.4" stroke="#000" stroke-width="1.3"/>
<line x1="386.9" y1="310.1" x2="390.9" y2="310.1" stroke="#000" stroke-width="1.3"/>
<line x1="386.9" y1="293.2" x2="390.9" y2="293.2" stroke="#000" stroke-width="1.3"/>
<line x1="448.6" y1="302" x2="448.6" y2="314" stroke="#000" stroke-width="1.2"/>
<line x1="446.2" y1="302" x2="451" y2="302" stroke="#000" stroke-width="1.2"/>
<line x1="446.2" y1="314" x2="451" y2="314" stroke="#000" stroke-width="1.2"/>
<line x1="508.8" y1="327.5" x2="508.8" y2="331.8" stroke="#000" stroke-width="1.2"/>
<line x1="506.8" y1="327.5" x2="510.8" y2="327.5" stroke="#000" stroke-width="1.2"/>
<line x1="506.8" y1="331.8" x2="510.8" y2="331.8" stroke="#000" stroke-width="1.2"/>
<path d="M329,287.99 L388.9,299.99 L448.6,308.19 L508.8,314.69" stroke="#000" stroke-width="1.6" fill="none"/>
<path d="M329,287.72 L388.9,300.38 L448.6,316.4 L508.8,329.61" stroke="#000" stroke-width="1.8" fill="none"/>
<path d="M329,284.32 L332.4,287.72 L329,291.12 L325.6,287.72 Z" fill="#000"/>
<path d="M388.9,296.98 L392.3,300.38 L388.9,303.78 L385.5,300.38 Z" fill="#000"/>
<path d="M448.6,313 L452,316.4 L448.6,319.8 L445.2,316.4 Z" fill="#000"/>
<path d="M508.8,326.21 L512.2,329.61 L508.8,333.01 L505.4,329.61 Z" fill="#000"/>
<rect x="326.6" y="285.59" width="4.8" height="4.8" fill="#fff" stroke="#000" stroke-width="1.4"/>
<rect x="386.5" y="297.59" width="4.8" height="4.8" fill="#fff" stroke="#000" stroke-width="1.4"/>
<rect x="446.2" y="305.79" width="4.8" height="4.8" fill="#fff" stroke="#000" stroke-width="1.4"/>
<rect x="506.4" y="312.29" width="4.8" height="4.8" fill="#fff" stroke="#000" stroke-width="1.4"/>
<path d="M508.6,320.9 L508.6,324.3 M507.13,321.75 L510.07,323.45 M510.07,321.75 L507.13,323.45 " stroke="#222" stroke-width="1.0" fill="none"/>
<line x1="460.1" y1="283.4" x2="475.1" y2="283.4" stroke="#000" stroke-width="1.6"/>
<path d="M467.6,280 L471,283.4 L467.6,286.8 L464.2,283.4 Z" fill="#000"/>
<text x="479.2" y="286.2" font-family='"Liberation Serif", serif' font-size="8.5" text-anchor="start" font-weight="normal" fill="#000" >IPSI-001</text>
<line x1="460.1" y1="295.5" x2="475.1" y2="295.5" stroke="#000" stroke-width="1.4"/>
<rect x="465.4" y="293.3" width="4.4" height="4.4" fill="#fff" stroke="#000" stroke-width="1.3"/>
<text x="479.2" y="299" font-family='"Liberation Serif", serif' font-size="8.5" text-anchor="start" font-weight="normal" fill="#000" >Bortezomib</text>
<text transform="translate(307,307.3) rotate(-90)" font-family='"Liberation Serif", serif' font-size="9.6" font-weight="bold" text-anchor="middle">% Viable cells</text>
</svg>
</body></html>
